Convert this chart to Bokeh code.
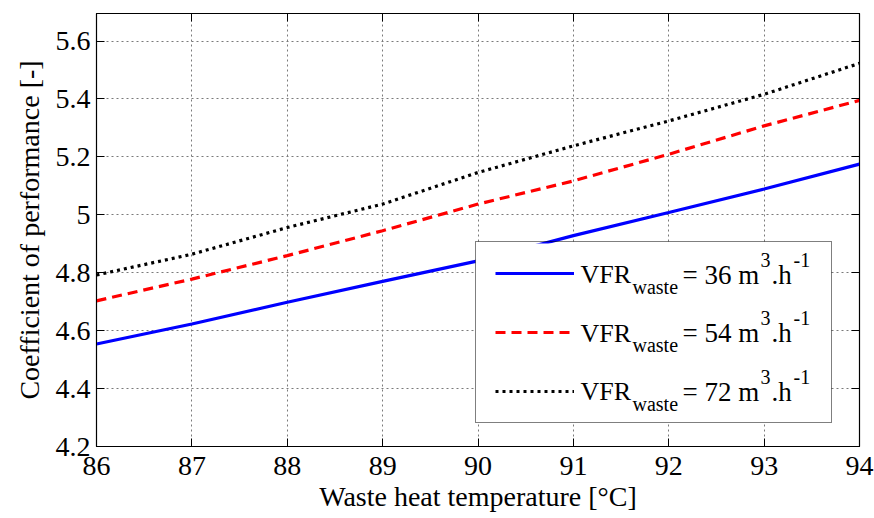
from bokeh.plotting import figure
from bokeh.models import (Range1d, FixedTicker, LinearAxis, Legend, LegendItem,
                          Label, CustomJSTickFormatter, BoxAnnotation)
from bokeh.embed import file_html
from bokeh.resources import INLINE

# ---- data ----
temperature = [86, 87, 88, 89, 90, 91, 92, 93, 94]
cop_36 = [4.554, 4.623, 4.698, 4.770, 4.841, 4.928, 5.008, 5.089, 5.175]
cop_54 = [4.703, 4.778, 4.859, 4.945, 5.037, 5.117, 5.209, 5.307, 5.395]
cop_72 = [4.792, 4.864, 4.956, 5.037, 5.146, 5.238, 5.324, 5.416, 5.523]
vfr_values = ["36", "54", "72"]
x_ticks = [86, 87, 88, 89, 90, 91, 92, 93, 94]
y_ticks = [4.2, 4.4, 4.6, 4.8, 5.0, 5.2, 5.4, 5.6]

FONT = "Liberation Serif"

p = figure(width=874, height=518, output_backend="svg", toolbar_location=None,
           x_range=Range1d(86, 94), y_range=Range1d(4.2, 5.695),
           min_border_left=96, min_border_right=15, min_border_top=13,
           min_border_bottom=72)
p.outline_line_color = "black"
p.outline_line_width = 1.2

fmt = CustomJSTickFormatter(code="return Math.abs(tick-5)<1e-9 ? '5' : tick.toFixed(1);")

for ax in p.xaxis:
    ax.ticker = FixedTicker(ticks=x_ticks)
for ax in p.yaxis:
    ax.ticker = FixedTicker(ticks=y_ticks)
    ax.formatter = fmt

for ax in p.axis:
    ax.major_label_text_font = FONT
    ax.major_label_text_font_size = "28px"
    ax.major_label_text_color = "black"
    ax.axis_label_text_font = FONT
    ax.axis_label_text_font_size = "28px"
    ax.axis_label_text_font_style = "normal"
    ax.axis_label_text_color = "black"
    ax.major_tick_in = 8
    ax.major_tick_out = 0
    ax.minor_tick_in = 0
    ax.minor_tick_out = 0
    ax.axis_line_color = "black"
    ax.major_tick_line_color = "black"

p.xaxis.axis_label = "Waste heat temperature [°C]"
p.yaxis.axis_label = "Coefficient of performance [-]"
p.xaxis.major_label_standoff = 10
p.xaxis.axis_label_standoff = 3
p.yaxis.major_label_standoff = 6
p.yaxis.axis_label_standoff = 8

# box ticks on top and right
top = LinearAxis(ticker=FixedTicker(ticks=x_ticks), major_label_text_font_size="0px",
                 major_label_standoff=0, major_tick_in=8, major_tick_out=0,
                 minor_tick_in=0, minor_tick_out=0)
right = LinearAxis(ticker=FixedTicker(ticks=y_ticks), major_label_text_font_size="0px",
                   major_label_standoff=0, major_tick_in=8, major_tick_out=0,
                   minor_tick_in=0, minor_tick_out=0)
p.add_layout(top, "above")
p.add_layout(right, "right")

p.grid.grid_line_color = "#7a7a7a"
p.grid.grid_line_dash = "2 3"
p.grid.grid_line_width = 1

r1 = p.line(temperature, cop_36, line_color="#0000ff", line_width=3.2)
r2 = p.line(temperature, cop_54, line_color="#ff0000", line_width=3.2, line_dash="10 6")
r3 = p.line(temperature, cop_72, line_color="black", line_width=3.2, line_dash="3 4")

# opaque legend background (drawn under the legend samples and texts)
p.add_layout(BoxAnnotation(left=379, right=734, bottom=23, top=203,
                           left_units="screen", right_units="screen",
                           bottom_units="screen", top_units="screen",
                           fill_color="white", fill_alpha=1, line_color=None))

legend = Legend(items=[LegendItem(label=" ", renderers=[r]) for r in (r1, r2, r3)],
                location=(379, 23), glyph_width=79, glyph_height=24,
                label_width=228, label_height=24, label_standoff=10,
                spacing=35, padding=19, margin=0,
                border_line_color="black", border_line_width=1.2,
                background_fill_alpha=0,
                label_text_font_size="1px")
p.add_layout(legend, "center")

# legend texts: pieces (text, dx, dy, size) relative to each row's baseline origin
pieces = [("VFR", 0, 0, "26px"), ("waste", 52, -12, "20px"),
          ("= {} m", 102, 0, "27px"), ("3", 180, 15, "20px"),
          (".h", 191, 0, "27px"), ("-1", 213, 15, "20px")]
row_x0 = 484
row_y0 = [172, 113.3, 55]
for i, v in enumerate(vfr_values):
    for txt, dx, dy, size in pieces:
        p.add_layout(Label(x=row_x0 + dx, y=row_y0[i] + dy, x_units="screen",
                           y_units="screen", text=txt.format(v),
                           text_font=FONT, text_font_size=size,
                           text_baseline="alphabetic", text_color="black"))

open("out.html", "w").write(file_html(p, INLINE))
